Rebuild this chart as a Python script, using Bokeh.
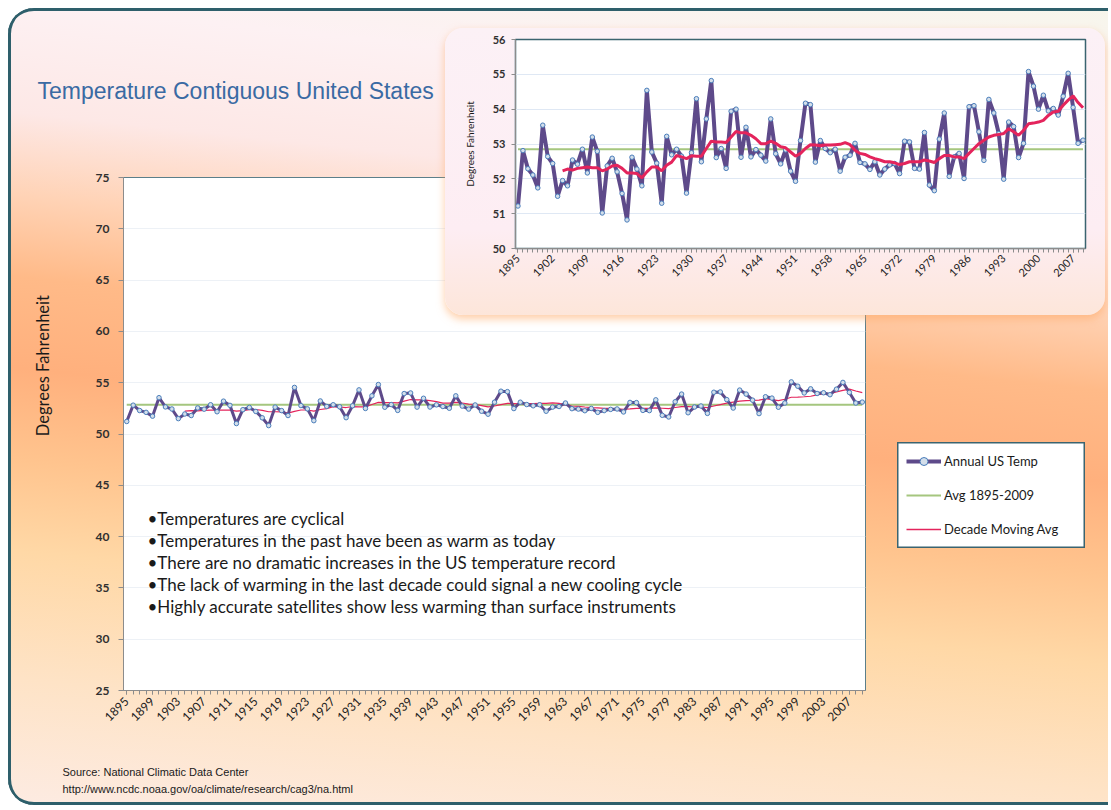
import math
from bokeh.plotting import figure
from bokeh.models import Range1d, FixedTicker, Legend, LegendItem, Label
from bokeh.embed import file_html
from bokeh.resources import INLINE

# ---------------- data ----------------
years = list(range(1895, 2010))
annual_temp = [
    51.22, 52.81, 52.29, 52.11, 51.74,
    53.54, 52.64, 52.44, 51.50, 51.95, 51.80, 52.54, 52.42, 52.85, 52.17,
    53.20, 52.79, 51.02, 52.37, 52.59, 52.20, 51.58, 50.82, 52.62, 52.28,
    51.80, 54.54, 52.77, 52.45, 51.30, 53.22, 52.69, 52.85, 52.65, 51.59,
    52.75, 54.30, 52.49, 53.72, 54.82, 52.61, 52.87, 52.30, 53.94, 54.00,
    52.62, 53.48, 52.63, 52.84, 52.68, 52.51, 53.72, 52.72, 52.43, 52.83,
    52.22, 51.93, 53.10, 54.17, 54.13, 52.48, 53.10, 52.87, 52.75, 52.85,
    52.22, 52.62, 52.68, 53.02, 52.47, 52.43, 52.27, 52.49, 52.11, 52.28,
    52.40, 52.44, 52.15, 53.08, 53.06, 52.30, 52.28, 53.33, 51.82, 51.66,
    53.14, 53.89, 52.07, 52.63, 52.73, 52.01, 54.07, 54.10, 53.35, 52.53,
    54.28, 53.89, 53.30, 51.99, 53.63, 53.50, 52.61, 53.02, 55.08, 54.66,
    54.00, 54.40, 53.95, 54.02, 53.83, 54.37, 55.03, 54.05, 53.02, 53.11,
]
avg_1895_2009 = 52.85
ma_years = list(range(1904, 2010))
decade_moving_avg = [
    52.23, 52.28, 52.25, 52.30, 52.32, 52.34,
    52.32, 52.32, 52.23, 52.28, 52.37, 52.39, 52.30, 52.17, 52.17, 52.15,
    52.03, 52.20, 52.34, 52.34, 52.23, 52.39, 52.48, 52.67, 52.63, 52.58,
    52.66, 52.65, 52.65, 52.87, 53.08, 53.06, 53.06, 53.04, 53.20, 53.36,
    53.32, 53.32, 53.25, 53.15, 53.01, 53.01, 53.08, 53.02, 52.92, 52.89,
    52.77, 52.65, 52.73, 52.87, 52.98, 52.97, 52.95, 52.97, 52.97, 52.98,
    52.99, 53.04, 52.98, 52.82, 52.73, 52.70, 52.63, 52.58, 52.54, 52.49,
    52.49, 52.46, 52.41, 52.44, 52.49, 52.49, 52.49, 52.54, 52.51, 52.47,
    52.58, 52.67, 52.67, 52.63, 52.63, 52.58, 52.73, 52.87, 53.01, 53.11,
    53.20, 53.25, 53.27, 53.30, 53.44, 53.35, 53.25, 53.39, 53.58, 53.60,
    53.63, 53.68, 53.82, 53.92, 53.94, 54.11, 54.26, 54.38, 54.19, 54.04,
]
main_tick_years = list(range(1895, 2010, 4))
inset_tick_years = list(range(1895, 2010, 7))
main_y_ticks = [25, 30, 35, 40, 45, 50, 55, 60, 65, 70, 75]
inset_y_ticks = [50, 51, 52, 53, 54, 55, 56]
series_names = ["Annual US Temp", "Avg 1895-2009", "Decade Moving Avg"]
bullets = [
    "\u2022Temperatures are cyclical",
    "\u2022Temperatures in the past have been as warm as today",
    "\u2022There are no dramatic increases in the US temperature record",
    "\u2022The lack of warming in the last decade could signal a new cooling cycle",
    "\u2022Highly accurate satellites show less warming than surface instruments",
]
title_text = "Temperature Contiguous United States"
y_label_text = "Degrees  Fahrenheit"
source_lines = ["Source: National Climatic Data Center",
                "http://www.ncdc.noaa.gov/oa/climate/research/cag3/na.html"]

avg_series = [avg_1895_2009] * len(years)

PURPLE = "#5e4a8a"
MK_LINE = "#4a7ebb"
MK_FILL = "#d3deea"
GREEN = "#a5c67f"
RED = "#e4245c"
AXIS = "#8c8c8c"
TEAL = "#3b6470"
FONT = "Lato"

# ---------------- main chart ----------------
OX, OY = 8, 8                 # page position of the slide
W, H = 1100, 797
FL, FR, FT, FB = 123, 865, 177, 690  # page pixel frame
main = figure(width=W, height=H, x_range=Range1d(1894.5, 2009.5), y_range=Range1d(25, 75),
              output_backend="svg", toolbar_location=None,
              min_border_left=FL - OX, min_border_right=W - (FR - OX),
              min_border_top=FT - OY, min_border_bottom=H - (FB - OY))
main.margin = (OY, 0, 0, OX)
main.title.visible = False
main.border_fill_alpha = 0
main.background_fill_color = "white"
main.outline_line_color = "#5b7f8a"
main.xgrid.grid_line_color = None
main.ygrid.grid_line_color = "#edf1f6"
main.styles = {
    "background": "linear-gradient(186deg, #f7f6ec 0%, #fdf1f3 12%, #fde8e6 24%, #ffd3b6 33%, "
                  "#ffba88 42%, #ffb07d 52%, #ffc48e 62%, #ffd8a6 72%, #fee3c6 86%, #fdebe2 100%)",
    "border-radius": "26px 0 0 26px",
    "box-shadow": "inset 3px 0 0 #2e5f6b, inset 0 3px 0 #2e5f6b, inset 0 -3px 0 #2e5f6b",
}

xa = main.xaxis[0]
xa.ticker = FixedTicker(ticks=main_tick_years, minor_ticks=years)
xa.major_label_orientation = math.pi / 4
xa.major_label_text_font = FONT
xa.major_label_text_font_size = "12px"
xa.major_label_text_font_style = "normal"
xa.major_label_text_color = "#222222"
xa.axis_line_color = AXIS
xa.major_tick_line_color = AXIS
xa.minor_tick_line_color = AXIS
xa.major_tick_in = 0
xa.major_tick_out = 4
xa.minor_tick_in = 0
xa.minor_tick_out = 4
xa.major_label_standoff = 5

ya = main.yaxis[0]
ya.ticker = FixedTicker(ticks=main_y_ticks)
ya.major_label_text_font = FONT
ya.major_label_text_font_size = "12px"
ya.major_label_text_font_style = "bold"
ya.major_label_text_color = "#303030"
ya.axis_line_color = AXIS
ya.major_tick_line_color = AXIS
ya.major_tick_in = 0
ya.major_tick_out = 5
ya.minor_tick_line_color = None
ya.major_label_standoff = 9

main.line(years, avg_series, line_color=GREEN, line_width=2.2)
main.line(ma_years, decade_moving_avg, line_color=RED, line_width=1.2)
main.line(years, annual_temp, line_color=PURPLE, line_width=3)
main.scatter(years, annual_temp, size=4.5, marker="circle",
             fill_color=MK_FILL, line_color=MK_LINE, line_width=1)


def mx(px):
    return 1894.5 + (px - FL) * 115.0 / (FR - FL)


def my(py):
    return 75 - (py - FT) * 50.0 / (FB - FT)


for i, t in enumerate(bullets):
    main.add_layout(Label(x=mx(147), y=my(518 + 22 * i), text=t, text_font=FONT,
                          text_font_size="17px", text_color="#1a1a1a", text_baseline="middle",
                          text_align="left"))

# ---------------- inset chart ----------------
IW, IH = 660, 287
IX, IY = 445, 28
IFL, IFR, IFT, IFB = 515, 1085, 39, 248
inset = figure(width=IW, height=IH, x_range=Range1d(1894.5, 2009.5), y_range=Range1d(50, 56),
               output_backend="svg", toolbar_location=None,
               min_border_left=IFL - IX, min_border_right=IX + IW - IFR,
               min_border_top=IFT - IY, min_border_bottom=IY + IH - IFB)
inset.margin = (IY - (OY + H), 0, 0, IX)
inset.title.visible = False
inset.border_fill_alpha = 0
inset.background_fill_color = "white"
inset.outline_line_color = TEAL
inset.outline_line_width = 1.5
inset.xgrid.grid_line_color = None
inset.ygrid.grid_line_color = "#dfe8f4"
inset.styles = {
    "background": "linear-gradient(180deg, #fcf1f6 0%, #fdedf3 70%, #fde6da 100%)",
    "border-radius": "18px",
    "box-shadow": "0 4px 9px rgba(255,165,95,0.55)",
}

ixa = inset.xaxis[0]
ixa.ticker = FixedTicker(ticks=inset_tick_years, minor_ticks=years)
ixa.major_label_orientation = math.pi / 4
ixa.major_label_text_font = FONT
ixa.major_label_text_font_size = "11px"
ixa.major_label_text_font_style = "normal"
ixa.major_label_text_color = "#222222"
ixa.axis_line_color = AXIS
ixa.major_tick_line_color = AXIS
ixa.minor_tick_line_color = AXIS
ixa.major_tick_in = 0
ixa.major_tick_out = 4
ixa.minor_tick_in = 0
ixa.minor_tick_out = 4
ixa.major_label_standoff = 4

iya = inset.yaxis[0]
iya.ticker = FixedTicker(ticks=inset_y_ticks)
iya.major_label_text_font = FONT
iya.major_label_text_font_size = "11px"
iya.major_label_text_font_style = "bold"
iya.major_label_text_color = "#303030"
iya.axis_line_color = AXIS
iya.major_tick_line_color = AXIS
iya.major_tick_in = 0
iya.major_tick_out = 4
iya.minor_tick_line_color = None
iya.major_label_standoff = 6
iya.axis_label = "Degrees Fahrenheit"
iya.axis_label_text_font = FONT
iya.axis_label_text_font_size = "10px"
iya.axis_label_text_font_style = "normal"
iya.axis_label_text_color = "#1a1a1a"
iya.axis_label_standoff = 14

inset.line(years, avg_series, line_color=GREEN, line_width=2)
inset.line(years, annual_temp, line_color=PURPLE, line_width=4)
inset.scatter(years, annual_temp, size=4.5, marker="circle",
              fill_color=MK_FILL, line_color=MK_LINE, line_width=1)
inset.line(ma_years, decade_moving_avg, line_color=RED, line_width=3)

# ---------------- legend box (own small figure) ----------------
LW, LH = 188, 106
LX, LY = 897, 442
leg = figure(width=LW, height=LH, x_range=Range1d(0, 1), y_range=Range1d(0, 1),
             output_backend="svg", toolbar_location=None,
             min_border_left=0, min_border_right=0, min_border_top=0, min_border_bottom=0)
leg.margin = (LY - (IY + IH), 0, 0, LX)
leg.title.visible = False
leg.axis.visible = False
leg.grid.visible = False
leg.outline_line_color = None
leg.border_fill_alpha = 0
leg.background_fill_alpha = 0
leg.styles = {"box-shadow": "inset 0 0 0 1.5px " + TEAL, "background": "white"}
# series renderers (their data lies outside this box's ranges; only legend glyphs show)
lr1 = leg.line(years, annual_temp, line_color=PURPLE, line_width=4)
lr1m = leg.scatter(years, annual_temp, size=4.5, marker="circle", fill_color=MK_FILL,
                   line_color=MK_LINE, line_width=1)
lr2 = leg.line(years, avg_series, line_color=GREEN, line_width=2.2)
lr3 = leg.line(ma_years, decade_moving_avg, line_color=RED, line_width=1.5)
legend = Legend(items=[
    LegendItem(label=series_names[0], renderers=[lr1, lr1m]),
    LegendItem(label=series_names[1], renderers=[lr2]),
    LegendItem(label=series_names[2], renderers=[lr3]),
], location="top_left")
legend.glyph_width = 35
legend.glyph_height = 20
legend.spacing = 14
legend.padding = 8
legend.margin = 9
legend.label_standoff = 3
legend.label_text_font = FONT
legend.label_text_font_size = "13px"
legend.label_text_color = "#1a1a1a"
legend.border_line_color = None
legend.background_fill_alpha = 0
leg.add_layout(legend)

# ---------------- transparent text overlay (page-pixel coordinates) ----------------
VW, VH = 1100, 800
ov = figure(width=VW, height=VH, x_range=Range1d(0, VW), y_range=Range1d(VH, 0),
            output_backend="svg", toolbar_location=None,
            min_border_left=0, min_border_right=0, min_border_top=0, min_border_bottom=0)
ov.margin = (-(LY + LH), 0, 0, 0)
ov.title.visible = False
ov.axis.visible = False
ov.grid.visible = False
ov.outline_line_color = None
ov.border_fill_alpha = 0
ov.background_fill_alpha = 0
ov.add_layout(Label(x=37, y=90, text=title_text, text_font="Liberation Sans",
                    text_font_size="23px", text_color="#3a6aa3", text_baseline="middle",
                    text_align="left"))
ov.add_layout(Label(x=42, y=363, text=y_label_text, angle=math.pi / 2, text_font=FONT,
                    text_font_size="16.5px", text_color="#1a1a1a", text_baseline="middle",
                    text_align="center"))
for i, t in enumerate(source_lines):
    ov.add_layout(Label(x=62, y=771 + 17 * i, text=t, text_font="Liberation Sans",
                        text_font_size="11px", text_color="#1a1a1a", text_baseline="middle",
                        text_align="left"))

open("out.html", "w").write(file_html([main, inset, leg, ov], INLINE))
